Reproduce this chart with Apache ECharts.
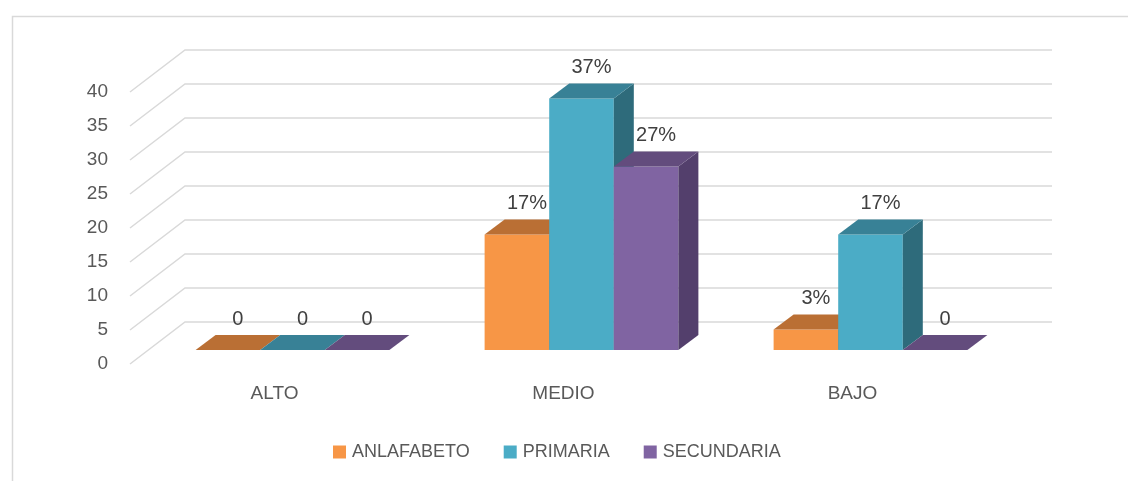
<!DOCTYPE html>
<html>
<head>
<meta charset="utf-8">
<script src="https://cdn.jsdelivr.net/npm/echarts@6/dist/echarts.min.js"></script>
<style>
  html, body { margin: 0; padding: 0; background: #fff; }
  #chart { width: 1128px; height: 481px; }
</style>
</head>
<body>
<div id="chart"></div>
<script>
// datos
const categories = ["ALTO", "MEDIO", "BAJO"];
const seriesNames = ["ANLAFABETO", "PRIMARIA", "SECUNDARIA"];
const anlafabeto = [0, 17, 3];
const primaria = [0, 37, 17];
const secundaria = [0, 27, 0];
const yTicks = [0, 5, 10, 15, 20, 25, 30, 35, 40];

// colores: frente, tapa, lado
const palette = [
  { front: "#F79646", top: "#BA6F34", side: "#9C5B2A" },
  { front: "#4BACC6", top: "#388196", side: "#2E6B7B" },
  { front: "#8064A2", top: "#634C7D", side: "#533F6C" }
];

const FONT = "Liberation Sans";
const wallDx = 55, wallDy = -42;   // profundidad de las paredes
const frontDx = 18, frontDy = -14; // donde empieza la barra
const barDx = 20, barDy = -15;     // profundidad de la barra

const chart = echarts.init(document.getElementById("chart"));

function gridLines(params, api) {
  const cs = params.coordSys;
  const y = api.coord([0, api.value(1)])[1];
  const x0 = cs.x, x1 = cs.x + cs.width;
  return {
    type: "polyline",
    shape: { points: [[x0, y], [x0 + wallDx, y + wallDy], [x1 + wallDx, y + wallDy]] },
    style: { fill: null, stroke: "#D9D9D9", lineWidth: 1.5 },
    silent: true
  };
}

function makeBar(idx) {
  const c = palette[idx];
  return function (params, api) {
    const cat = api.value(0);
    const val = api.value(1);
    const p = api.coord([cat, val]);
    const p0 = api.coord([cat, 0]);
    const band = api.size([1, 0])[0];
    const w = band * 0.2235;
    const xl = p[0] - 1.5 * w + idx * w + frontDx;
    const xr = xl + w;
    const yt = p[1] + frontDy;
    const yb = p0[1] + frontDy;
    const children = [];
    if (yb - yt > 0.5) {
      children.push({
        type: "rect",
        shape: { x: xl, y: yt, width: w, height: yb - yt },
        style: { fill: c.front }
      });
      children.push({
        type: "polygon",
        shape: { points: [[xr, yt], [xr + barDx, yt + barDy], [xr + barDx, yb + barDy], [xr, yb]] },
        style: { fill: c.side }
      });
    }
    children.push({
      type: "polygon",
      shape: { points: [[xl, yt], [xl + barDx, yt + barDy], [xr + barDx, yt + barDy], [xr, yt]] },
      style: { fill: c.top }
    });
    children.push({
      type: "text",
      x: xl + w / 2 + 10,
      y: yt - 31,
      style: {
        text: val === 0 ? "0" : val + "%",
        fill: "#404040",
        font: "20px '" + FONT + "'",
        align: "center",
        verticalAlign: "middle"
      },
      z2: 10
    });
    return { type: "group", children: children };
  };
}

const barData = [anlafabeto, primaria, secundaria];

chart.setOption({
  animation: false,
  textStyle: { fontFamily: FONT },
  graphic: [{
    type: "rect",
    left: 10, top: 14,
    shape: { width: 1300, height: 600 },
    style: { fill: null, stroke: "#D9D9D9", lineWidth: 1.5 },
    silent: true,
    z: -10
  }],
  legend: {
    data: seriesNames,
    left: 333,
    top: 443,
    padding: 0,
    icon: "rect",
    itemWidth: 13,
    itemHeight: 13,
    itemGap: 34,
    textStyle: { fontSize: 18, color: "#595959", fontFamily: FONT, padding: [0, 0, 0, 1] }
  },
  grid: { left: 130, right: 131, top: 92, bottom: 117 },
  xAxis: {
    type: "category",
    data: categories,
    axisLine: { show: false },
    axisTick: { show: false },
    axisLabel: { fontSize: 19, color: "#595959", margin: 20 }
  },
  yAxis: {
    type: "value",
    min: 0,
    max: 40,
    interval: 5,
    axisLine: { show: false },
    axisTick: { show: false },
    splitLine: { show: false },
    axisLabel: { fontSize: 19, color: "#595959", margin: 22 }
  },
  series: [
    {
      type: "custom",
      name: "grid",
      z: 1,
      silent: true,
      renderItem: gridLines,
      data: yTicks.map(v => [0, v])
    }
  ].concat(seriesNames.map((name, i) => ({
    type: "custom",
    name: name,
    z: 2 + i,
    itemStyle: { color: palette[i].front },
    renderItem: makeBar(i),
    data: barData[i].map((v, j) => [j, v])
  })))
});
</script>
</body>
</html>
